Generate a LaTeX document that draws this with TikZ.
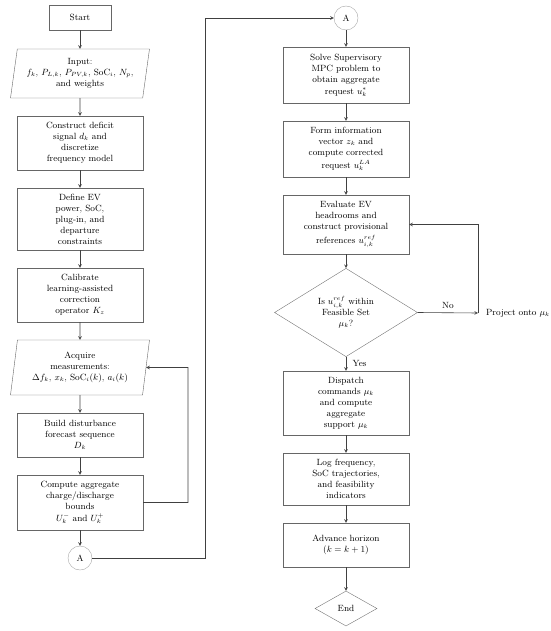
\documentclass[tikz,border=0pt]{standalone}
\usepackage{amsmath,amssymb}
\usetikzlibrary{shapes.geometric}

\begin{document}
\begin{tikzpicture}[x=1pt,y=-1pt,>=stealth,font=\small,
  proc/.style={rectangle,draw=black!60,fill=white,align=center,minimum width=126pt,inner sep=2pt},
  io/.style={trapezium,trapezium left angle=78,trapezium right angle=102,trapezium stretches body,draw=black!60,align=center,minimum width=139pt,inner sep=1pt},
  decide/.style={diamond,draw=black!55,align=center,inner sep=0pt},
  conn/.style={circle,draw=black!35,minimum size=24pt,inner sep=0pt},
  flow/.style={->,draw=black!75,line width=0.6pt}]
\useasboundingbox (0,0) rectangle (550,631);
% left column
\node[proc,minimum width=62pt,minimum height=25pt] (start) at (80,17.5) {Start};
\node[io,minimum height=49pt] (input) at (80,73.5) {Input:\\ $f_k$, $P_{L,k}$, $P_{PV,k}$, SoC$_i$, $N_p$,\\ and weights};
\node[proc,minimum height=54pt] (deficit) at (80,143) {Construct deficit\\ signal $d_k$ and\\ discretize\\ frequency model};
\node[proc,minimum height=62pt] (limits) at (80,219) {Define EV\\ power, SoC,\\ plug-in, and\\ departure\\ constraints};
\node[proc,minimum height=54pt] (calib) at (80,295) {Calibrate\\ learning-assisted\\ correction\\ operator $K_z$};
\node[io,minimum height=55pt] (acquire) at (80,367.5) {Acquire\\ measurements:\\ $\Delta f_k$, $x_k$, SoC$_i(k)$, $a_i(k)$};
\node[proc,minimum height=44pt] (forecast) at (80,435) {Build disturbance\\ forecast sequence\\ $D_k$};
\node[proc,minimum height=55pt] (bounds) at (80,502.5) {Compute aggregate\\ charge/discharge\\ bounds\\[1pt] $U_k^-$ and $U_k^+$};
\node[conn] (A1) at (80,558) {A};
% right column
\node[conn] (A2) at (346,18) {A};
\node[proc,minimum height=56pt] (mpc) at (346,75) {Solve Supervisory\\ MPC problem to\\ obtain aggregate\\[1pt] request $u_k^*$};
\node[proc,minimum height=56pt] (corr) at (346,149) {Form information\\ vector $z_k$ and\\ compute corrected\\[2pt] request $u_k^{LA}$};
\node[proc,minimum height=59pt] (headroom) at (346,224.5) {Evaluate EV\\ headrooms and\\ construct provisional\\[3pt] references $u_{i,k}^{ref}$};
\node[decide,minimum width=143pt,minimum height=67pt] (check) at (346,312.5) {Is $u_{i,k}^{ref}$ within\\ Feasible Set\\ $\mu_k$?};
\node[anchor=west,inner sep=0pt] (proj) at (478,313) {\hspace{8pt}Project onto $\mu_k$};
\node[proc,minimum height=64pt] (dispatch) at (346,403) {Dispatch\\ commands $\mu_k$\\ and compute\\ aggregate\\ support $\mu_k$};
\node[proc,minimum height=52pt] (logger) at (346,479) {Log frequency,\\ SoC trajectories,\\ and feasibility\\ indicators};
\node[proc,minimum height=44pt] (advance) at (346,545) {Advance horizon\\ $(k=k+1)$};
\node[decide,minimum width=62pt,minimum height=35pt] (finish) at (346,608.5) {End};
\coordinate (loopR) at (188,367.5);
\coordinate (bridge) at (205,18);
% connectors
\draw[flow] (start)--(input); \draw[flow] (input)--(deficit); \draw[flow] (deficit)--(limits);
\draw[flow] (limits)--(calib); \draw[flow] (calib)--(acquire); \draw[flow] (acquire)--(forecast);
\draw[flow] (forecast)--(bounds); \draw[flow] (bounds)--(A1);
\draw[flow] (bounds.east) -| (loopR) -- (acquire.east);
\draw[flow] (A1.east) -| (bridge) -- (A2.west);
\draw[flow] (A2)--(mpc); \draw[flow] (mpc)--(corr); \draw[flow] (corr)--(headroom);
\draw[flow] (headroom)--(check);
\draw[flow] (check.east) -- node[above=1pt] {No} (proj.west);
\draw[flow] (proj.west) |- (headroom.east);
\draw[flow] (check.south) -- node[right=3pt] {Yes} (dispatch.north);
\draw[flow] (dispatch)--(logger); \draw[flow] (logger)--(advance); \draw[flow] (advance)--(finish);
\end{tikzpicture}
\end{document}
